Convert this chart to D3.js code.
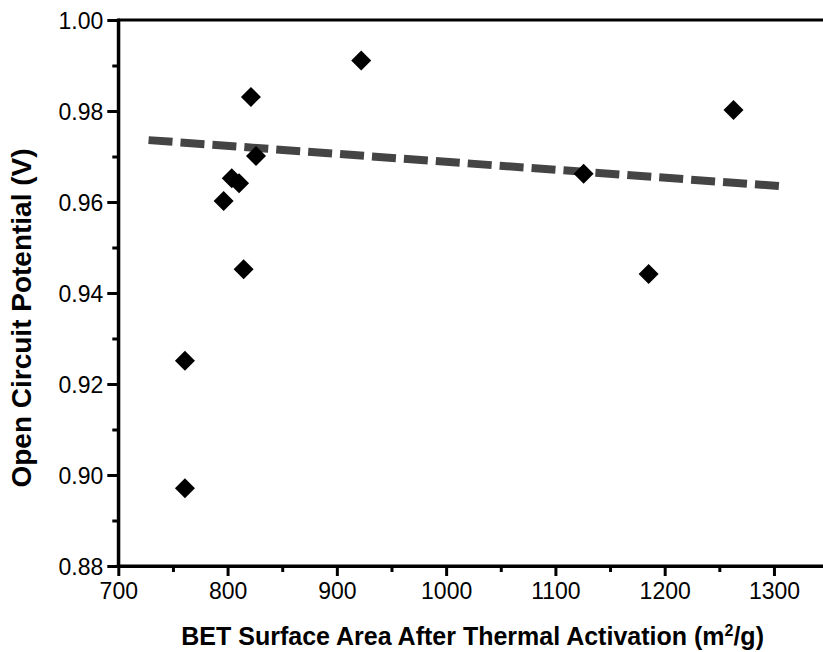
<!DOCTYPE html>
<html>
<head>
<meta charset="utf-8">
<script src="https://cdn.jsdelivr.net/npm/d3@7/dist/d3.min.js"></script>
<style>
  html, body { margin: 0; padding: 0; background: #fff; }
  svg { display: block; font-family: "Liberation Sans", Arial, Helvetica, sans-serif; }
</style>
</head>
<body>
<svg id="chart" width="823" height="652"></svg>
<script>
// BET surface area (m²/g) and open circuit potential (V) for each sample
const surfaceArea = [761, 761, 796.4, 803.8, 810.5, 814.7, 821.4, 826, 922.3, 1125.8, 1185.3, 1263];
const ocp         = [0.8971, 0.9251, 0.9602, 0.9652, 0.9641, 0.9452, 0.9831, 0.9701, 0.9911, 0.9662, 0.9442, 0.9802];

// Linear trend line end points
const trendX = [727.7, 1304.8];
const trendY = [0.9736, 0.9635];

// Axis ticks
const xMajorTicks = [700, 800, 900, 1000, 1100, 1200, 1300];
const xMinorTicks = [750, 850, 950, 1050, 1150, 1250, 1350];
const yMajorTicks = [0.88, 0.90, 0.92, 0.94, 0.96, 0.98, 1.00];
const yMinorTicks = [0.89, 0.91, 0.93, 0.95, 0.97, 0.99];

const svg = d3.select("#chart");

const x = d3.scaleLinear().domain([700, 1350]).range([118.3, 828.6]);
const y = d3.scaleLinear().domain([0.88, 1.00]).range([566, 20]);

const axisW = 3;

// Trend line
svg.append("line")
  .attr("x1", x(trendX[0])).attr("y1", y(trendY[0]))
  .attr("x2", x(trendX[1])).attr("y2", y(trendY[1]))
  .attr("stroke", "#444")
  .attr("stroke-width", 8)
  .attr("stroke-dasharray", "24,8");

// Diamond markers
const r = 10;
svg.append("g").selectAll("path")
  .data(surfaceArea.map((v, i) => [v, ocp[i]]))
  .join("path")
  .attr("d", d => {
    const cx = x(d[0]), cy = y(d[1]);
    return `M${cx},${cy - r}L${cx + r},${cy}L${cx},${cy + r}L${cx - r},${cy}Z`;
  })
  .attr("fill", "#000");

// Bottom axis
const xAxis = svg.append("g").attr("transform", `translate(0,${y(0.88)})`);
xAxis.call(d3.axisBottom(x).tickValues(xMajorTicks).tickSize(10).tickSizeOuter(0).tickFormat(d3.format("d")));
xAxis.append("g").call(d3.axisBottom(x).tickValues(xMinorTicks).tickSize(6).tickSizeOuter(0).tickFormat(""));

// Left axis
const yAxis = svg.append("g").attr("transform", `translate(${x(700)},0)`);
yAxis.call(d3.axisLeft(y).tickValues(yMajorTicks).tickSize(11).tickSizeOuter(0).tickFormat(d3.format(".2f")));
yAxis.append("g").call(d3.axisLeft(y).tickValues(yMinorTicks).tickSize(6).tickSizeOuter(0).tickFormat(""));

svg.selectAll(".domain").attr("stroke", "#000").attr("stroke-width", axisW);
svg.selectAll(".tick line").attr("stroke", "#000").attr("stroke-width", axisW);
svg.selectAll(".tick text")
  .attr("fill", "#000")
  .style("font-size", "23px")
  .style("font-family", "'Liberation Sans', Arial, sans-serif");
xAxis.selectAll(".tick text").attr("dy", "0.71em").attr("y", 17);
yAxis.selectAll(".tick text").attr("x", -15).attr("dy", "0.35em");

// Extend the domain lines slightly so corners close
xAxis.select(".domain").attr("d", `M${x(700) - axisW / 2},0H${x(1350)}`);
yAxis.select(".domain").attr("d", `M0,${y(0.88) + axisW / 2}V${y(1.00) - axisW / 2}`);

// Top frame
svg.append("line")
  .attr("x1", x(700)).attr("x2", x(1350))
  .attr("y1", y(1.00)).attr("y2", y(1.00))
  .attr("stroke", "#000").attr("stroke-width", axisW);

// Axis titles
svg.append("text")
  .attr("x", (x(700) + 823) / 2 + 2)
  .attr("y", 645)
  .attr("text-anchor", "middle")
  .style("font-size", "25px")
  .style("font-weight", "bold")
  .html('BET Surface Area After Thermal Activation (m<tspan dy="-9" font-size="16px">2</tspan><tspan dy="9">/g)</tspan>');

svg.append("text")
  .attr("transform", `translate(31,318) rotate(-90)`)
  .attr("text-anchor", "middle")
  .style("font-size", "28px")
  .style("font-weight", "bold")
  .text("Open Circuit Potential (V)");
</script>
</body>
</html>
